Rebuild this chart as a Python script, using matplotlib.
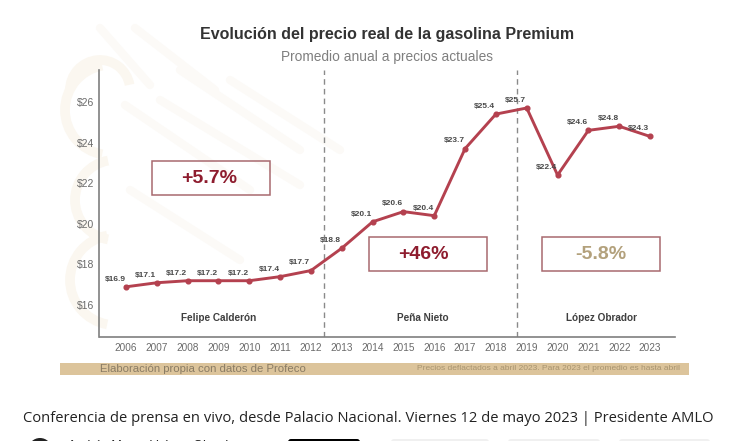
import matplotlib
matplotlib.use("Agg")
import matplotlib.pyplot as plt
from matplotlib.patches import Rectangle, FancyBboxPatch, Arc, Circle

years = list(range(2006, 2024))
prices = [16.9, 17.1, 17.2, 17.2, 17.2, 17.4, 17.7, 18.8, 20.1, 20.6, 20.4, 23.7, 25.4, 25.7, 22.4, 24.6, 24.8, 24.3]
price_labels = ["$16.9", "$17.1", "$17.2", "$17.2", "$17.2", "$17.4", "$17.7", "$18.8", "$20.1", "$20.6",
                "$20.4", "$23.7", "$25.4", "$25.7", "$22.4", "$24.6", "$24.8", "$24.3"]
yticks = [16, 18, 20, 22, 24, 26]
ytick_labels = ["$16", "$18", "$20", "$22", "$24", "$26"]
period_breaks = [2012.42, 2018.7]
period_names = ["Felipe Calderón", "Peña Nieto", "López Obrador"]
period_name_x = [2009.02, 2015.64, 2021.41]
changes = ["+5.7%", "+46%", "-5.8%"]

W, H = 750, 441
plt.rcParams["font.family"] = ["Liberation Sans", "DejaVu Sans"]
fig = plt.figure(figsize=(W / 100, H / 100), dpi=100, facecolor="white")

# full-figure pixel overlay
bg = fig.add_axes([0, 0, 1, 1], zorder=0)
bg.set_xlim(0, W); bg.set_ylim(H, 0); bg.axis("off")

# faint emblem watermark
wm = "#fcfaf7"
for x0, y0, x1, y1 in [(100, 28, 150, 85), (135, 28, 215, 90), (180, 70, 300, 150), (125, 105, 250, 190),
                       (160, 100, 300, 185), (230, 80, 340, 150), (130, 190, 240, 260)]:
    bg.plot([x0, x1], [y0, y1], color=wm, lw=6, solid_capstyle="round")
for cx, cy, r, t1, t2 in [(110, 110, 45, 100, 260), (115, 200, 40, 100, 260), (115, 280, 45, 100, 260), (100, 90, 30, 180, 350)]:
    bg.add_patch(Arc((cx, cy), 2 * r, 2 * r, theta1=t1, theta2=t2, color="#fbf7f0", lw=7))

L, R, T, B = 99.5, 675, 70, 337
ax = fig.add_axes([L / W, 1 - B / H, (R - L) / W, (B - T) / H], zorder=1)
ax.patch.set_alpha(0)
ax.set_xlim(2005.14, 2023.81)
ax.set_ylim(14.43, 27.57)
for s in ("top", "right"):
    ax.spines[s].set_visible(False)
for s in ("left", "bottom"):
    ax.spines[s].set_color("#7f7f7f")
    ax.spines[s].set_linewidth(1.2)
ax.plot(years, prices, color="#b4414f", lw=2.1, marker="o", ms=3.4, solid_joinstyle="miter", zorder=3)
for x, y, t in zip(years, prices, price_labels):
    ax.annotate(t, (x, y), xytext=(-8, 5.5), textcoords="offset points", ha="center", va="center",
                fontsize=6.0, color="#4a4a4a", fontweight="bold", zorder=4)
ax.set_xticks(years)
ax.set_xticklabels([str(y) for y in years], fontsize=7.2, color="#6a6a6a")
ax.set_yticks(yticks)
ax.set_yticklabels(ytick_labels, fontsize=7.5, color="#6a6a6a")
ax.tick_params(axis="x", length=0, pad=4)
ax.tick_params(axis="y", length=0, pad=4)
for b in period_breaks:
    ax.axvline(b, color="#8a8a8a", lw=1.0, ls=(0, (4, 3)), zorder=2)
for x, n in zip(period_name_x, period_names):
    ax.text(x, 15.36, n, ha="center", va="center", fontsize=7.2, fontweight="bold", color="#3f3f3f")

# annotation boxes, in pixels (box x, y, w, h, text centre x, text colour)
boxes = [(152, 161, 118, 34, 209.5, "#8e1c2e"), (369, 237, 118, 34, 423.5, "#8e1c2e"), (542, 237, 118, 34, 601, "#b3a17c")]
for (x, y, w, h, tx, c), t in zip(boxes, changes):
    bg.add_patch(Rectangle((x, y), w, h, fill=False, ec="#a8696f", lw=1.1, zorder=5))
    bg.text(tx, y + h / 2 + 0.5, t, ha="center", va="center", fontsize=14, fontweight="bold", color=c, zorder=6)

bg.text(387.5, 35, "Evolución del precio real de la gasolina Premium", ha="center", va="center",
        fontsize=11.5, fontweight="bold", color="#333333")
bg.text(387, 57, "Promedio anual a precios actuales", ha="center", va="center", fontsize=9.9, color="#7f7f7f")

bg.add_patch(Rectangle((60, 363), 629, 12, color="#dcc49b", lw=0))
bg.text(100, 369, "Elaboración propia con datos de Profeco", ha="left", va="center", fontsize=8.2, color="#8a7c64")
bg.text(680, 369, "Precios deflactados a abril 2023. Para 2023 el promedio es hasta abril", ha="right", va="center",
        fontsize=6.0, color="#a8946f")

bg.text(23, 418, "Conferencia de prensa en vivo, desde Palacio Nacional. Viernes 12 de mayo 2023 | Presidente AMLO",
        ha="left", va="center", fontsize=10.6, color="#222222", family=["Open Sans", "DejaVu Sans"])
bg.add_patch(Circle((40, 450), 12, color="#222222", lw=0))
bg.add_patch(FancyBboxPatch((288, 439), 72, 8, boxstyle="round,pad=0,rounding_size=3", color="black", lw=0))
for x0, x1 in [(391, 489), (508, 600), (619, 710)]:
    bg.add_patch(FancyBboxPatch((x0, 439), x1 - x0, 8, boxstyle="round,pad=0,rounding_size=3", color="#f0f0f0", lw=0))
bg.text(68, 445.5, "Andrés Manuel López Obrador", ha="left", va="center", fontsize=9, color="#222222", clip_on=True)

fig.savefig("out.png", dpi=100)
